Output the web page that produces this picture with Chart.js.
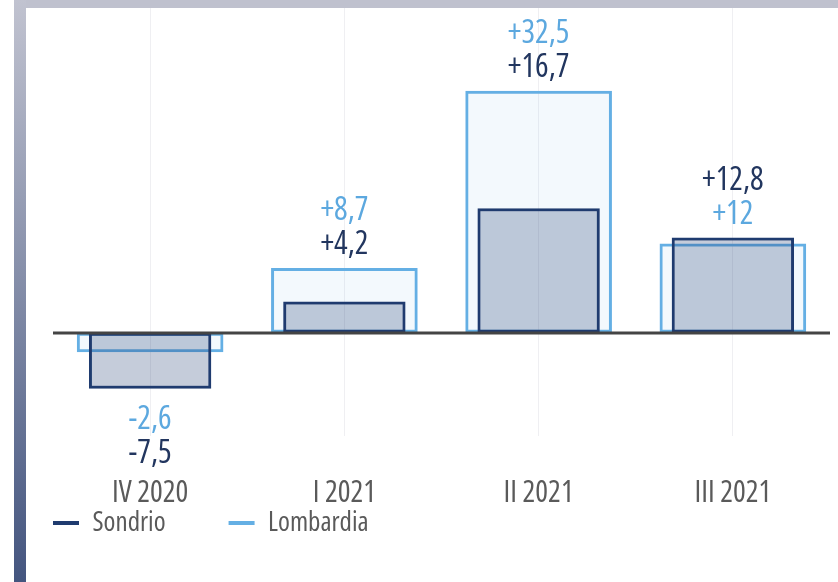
<!DOCTYPE html>
<html><head><meta charset="utf-8">
<script src="https://cdn.jsdelivr.net/npm/chart.js@4/dist/chart.umd.min.js"></script>
<style>
html,body{margin:0;padding:0;background:#fff;width:838px;height:582px;overflow:hidden}
#topbar{position:absolute;left:14px;top:0;width:824px;height:8px;background:#bfc1ce}
#leftbar{position:absolute;left:14px;top:0;width:12px;height:582px;background:linear-gradient(#c1c3d0,#44557f)}
#wrap{position:absolute;left:26px;top:8px;width:812px;height:574px}
</style></head><body>
<div id="topbar"></div><div id="leftbar"></div>
<div id="wrap"><canvas id="c" width="812" height="574"></canvas></div>
<script>
const categories = ['IV 2020', 'I 2021', 'II 2021', 'III 2021'];
const sondrio = [-7.5, 4.2, 16.7, 12.8];
const lombardia = [-2.6, 8.7, 32.5, 12];
const seriesNames = ['Sondrio', 'Lombardia'];

const FAMILY = '"Open Sans", Roboto, sans-serif';
const STRETCH = 'condensed';
const DARK = '#1f3b6f';
const LIGHT = '#64afe4';
const DARK_TXT = '#22365f';
const LIGHT_TXT = '#5ca8df';
const GREY_TXT = '#5a5a5a';

function fmt(v) {
  const s = Math.abs(v).toString().replace('.', ',');
  return (v >= 0 ? '+' : '-') + s;
}

const zeroLine = {
  id: 'zeroLine',
  afterDatasetsDraw(chart) {
    const {ctx, chartArea, scales} = chart;
    const y = Math.round(scales.y.getPixelForValue(0));
    ctx.save();
    ctx.strokeStyle = '#444444';
    ctx.lineWidth = 3;
    ctx.beginPath();
    ctx.moveTo(chartArea.left, y);
    ctx.lineTo(chartArea.right, y);
    ctx.stroke();
    ctx.restore();
  }
};

const valueLabels = {
  id: 'valueLabels',
  afterDatasetsDraw(chart) {
    const {ctx, scales} = chart;
    ctx.save();
    ctx.font = STRETCH + ' 32px ' + FAMILY;
    ctx.textAlign = 'center';
    ctx.textBaseline = 'middle';
    categories.forEach((c, i) => {
      const x = scales.x.getPixelForValue(i);
      const s = sondrio[i], l = lombardia[i];
      const items = [
        {v: s, color: DARK_TXT},
        {v: l, color: LIGHT_TXT}
      ];
      if (s >= 0 && l >= 0) {
        items.sort((a, b) => a.v - b.v);
        const base = scales.y.getPixelForValue(Math.max(s, l));
        items.forEach((it, k) => {
          ctx.fillStyle = it.color;
          ctx.fillText(fmt(it.v), x, base - 23 - k * 34);
        });
      } else {
        items.sort((a, b) => b.v - a.v);
        const base = scales.y.getPixelForValue(Math.min(s, l));
        items.forEach((it, k) => {
          ctx.fillStyle = it.color;
          ctx.fillText(fmt(it.v), x, base + 31 + k * 34);
        });
      }
    });
    ctx.restore();
  }
};

const legendShift = {
  id: 'legendShift',
  afterLayout(chart) {
    const lg = chart.legend;
    const pad = lg.options.labels.padding;
    lg.left = 27 - pad;
    lg.top = 501.5 - pad;
  }
};

new Chart(document.getElementById('c'), {
  type: 'bar',
  data: {
    labels: categories,
    datasets: [
      {
        label: seriesNames[0],
        data: sondrio,
        backgroundColor: 'rgba(31,59,111,0.26)',
        borderColor: DARK,
        borderWidth: 3,
        borderSkipped: false,
        grouped: false,
        categoryPercentage: 1,
        barPercentage: 0.63
      },
      {
        label: seriesNames[1],
        data: lombardia,
        backgroundColor: 'rgba(100,175,228,0.08)',
        borderColor: LIGHT,
        borderWidth: 3,
        borderSkipped: false,
        grouped: false,
        categoryPercentage: 1,
        barPercentage: 0.755
      }
    ]
  },
  options: {
    responsive: false,
    animation: false,
    layout: {padding: {left: 27, right: 8, top: 0, bottom: -8}},
    scales: {
      x: {
        offset: true,
        grid: {offset: false, color: '#efeff2', lineWidth: 1, drawTicks: false},
        border: {display: false},
        ticks: {color: GREY_TXT, font: {family: FAMILY, weight: STRETCH, size: 30}, padding: 39}
      },
      y: {
        display: false,
        min: -13.86,
        max: 43.6
      }
    },
    plugins: {
      tooltip: {enabled: false},
      legend: {
        position: 'bottom',
        align: 'start',
        maxHeight: 40,
        labels: {
          color: GREY_TXT,
          font: {family: FAMILY, weight: STRETCH, size: 27},
          boxWidth: 26,
          boxHeight: 4,
          padding: 63,
          generateLabels(chart) {
            return chart.data.datasets.map((d, i) => ({
              text: d.label,
              fillStyle: d.borderColor,
              strokeStyle: d.borderColor,
              lineWidth: 0,
              hidden: false,
              datasetIndex: i,
              fontColor: GREY_TXT
            }));
          }
        }
      }
    }
  },
  plugins: [zeroLine, valueLabels, legendShift]
});
</script>
</body></html>
